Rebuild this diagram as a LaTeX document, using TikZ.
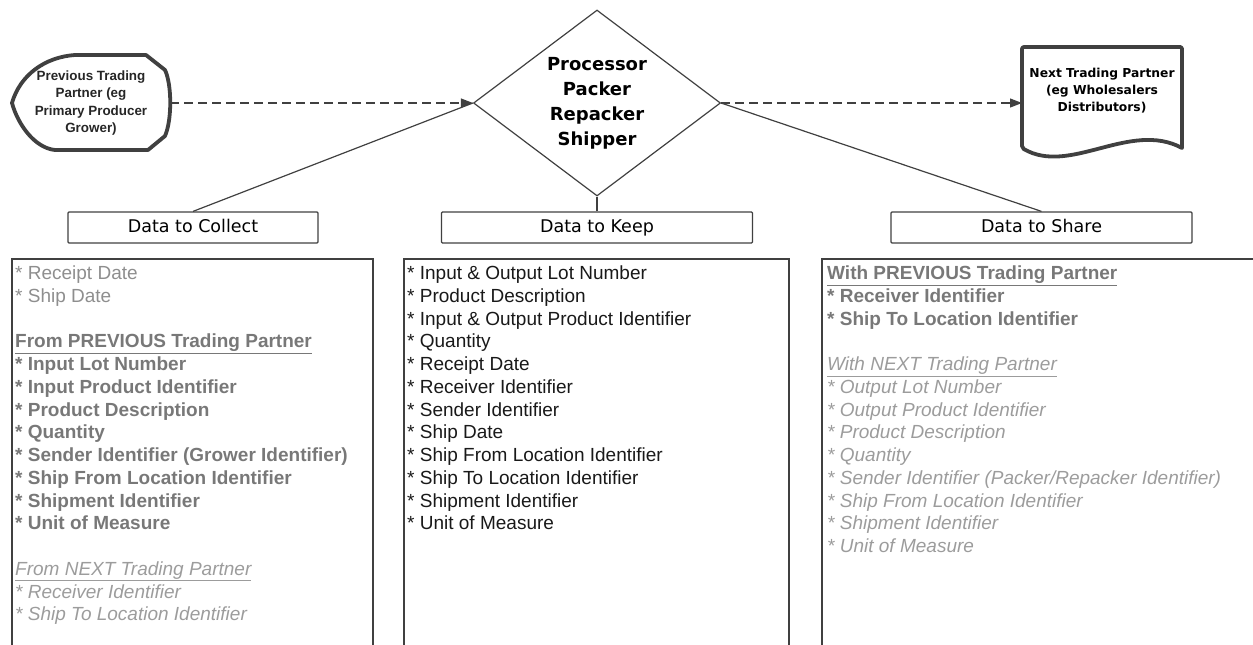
\documentclass[tikz,border=0pt]{standalone}
\usepackage{fontspec}
\setmainfont{Liberation Sans}
\newfontfamily\headfont{DejaVu Sans}
\usetikzlibrary{shapes.geometric,arrows.meta}
\definecolor{edgegray}{HTML}{404040}
\definecolor{lightgray}{HTML}{8E8E8E}
\definecolor{boldgray}{HTML}{787878}
\definecolor{italgray}{HTML}{9C9C9C}
\newcommand{\plainrow}[1]{\textcolor{lightgray}{#1}}
\newcommand{\boldrow}[1]{\textcolor{boldgray}{\bfseries #1}}
\newcommand{\italrow}[1]{\textcolor{italgray}{\itshape #1}}
\begin{document}
\begin{tikzpicture}[x=1pt, y=-1pt,
    thick line/.style={line width=3.8pt, draw=edgegray, line join=round},
    thin line/.style={line width=1.2pt, draw=edgegray},
    headbox/.style={draw=edgegray, line width=1.2pt, rounded corners=1pt, minimum height=31pt, inner sep=0pt, text height=13pt, text depth=4pt, font=\headfont\fontsize{17.5}{20}\selectfont},
    row/.style={anchor=base west, inner sep=0pt, font=\fontsize{19}{22}\selectfont},
    flow/.style={dash pattern=on 9pt off 5pt, line width=1.2pt, draw=edgegray, -{Triangle[length=12pt,width=9pt]}}]
    \useasboundingbox (0,0) rectangle (1253,645);
    \draw[thick line] (12,103) .. controls (20,75) and (45,57) .. (75,55) -- (146,55) -- (165,70) .. controls (172,85) and (172,120) .. (165,136) -- (148,150) -- (55,150) .. controls (35,148) and (18,125) .. (12,103) -- cycle;
    \node[align=center, font=\bfseries\fontsize{13.4}{17.3}\selectfont, text=black!85] (prev) at (91,103) {Previous Trading\\Partner (eg\\Primary Producer\\Grower)};
    \coordinate (prevR) at (170,103);
    \draw[thick line] (1182,148) [rounded corners=2pt] -- (1182,47) -- (1022,47) -- (1022,148) [sharp corners] .. controls (1070,176) and (1130,120) .. (1182,148) -- cycle;
    \node[align=center, font=\headfont\bfseries\fontsize{12.3}{17}\selectfont] (next) at (1102,91) {Next Trading Partner\\(eg Wholesalers\\Distributors)};
    \coordinate (nextL) at (1022,103);
    \node[diamond, aspect=1.33, draw=edgegray, line width=1.2pt, minimum width=247pt, minimum height=186pt, inner sep=0pt, align=center, font=\headfont\bfseries\fontsize{18}{25}\selectfont] (proc) at (597,103) {Processor\\Packer\\Repacker\\Shipper};
    \node[headbox, minimum width=250pt] (collect) at (193,227.5) {Data to Collect};
    \node[headbox, minimum width=311pt] (keep) at (597,227.5) {Data to Keep};
    \node[headbox, minimum width=301pt] (share) at (1041.5,227.5) {Data to Share};
    \draw[thin line] (collect.north) -- (proc.west);
    \draw[thin line] (keep.north) -- (proc.south);
    \draw[thin line] (share.north) -- (proc.east);
    \draw[flow] (prevR) -- (proc.west);
    \draw[flow] (proc.east) -- (nextL);
    \draw[thin line] (12,259) rectangle (373,660);
    \draw[thin line] (404,259) rectangle (789,660);
    \draw[thin line] (822,259) rectangle (1270,660);
    \foreach \txt [count=\i] in {{\plainrow{* Receipt Date}}, {\plainrow{* Ship Date}}, {},
        {\boldrow{\underline{From PREVIOUS Trading Partner}}}, {\boldrow{* Input Lot Number}},
        {\boldrow{* Input Product Identifier}}, {\boldrow{* Product Description}}, {\boldrow{* Quantity}},
        {\boldrow{* Sender Identifier (Grower Identifier)}}, {\boldrow{* Ship From Location Identifier}},
        {\boldrow{* Shipment Identifier}}, {\boldrow{* Unit of Measure}}, {},
        {\italrow{\underline{From NEXT Trading Partner}}}, {\italrow{* Receiver Identifier}},
        {\italrow{* Ship To Location Identifier}}}
        \node[row] (collect\i) at (15,{279.5+22.75*(\i-1)}) {\txt};
    \foreach \txt [count=\i] in {{* Input \& Output Lot Number}, {* Product Description},
        {* Input \& Output Product Identifier}, {* Quantity}, {* Receipt Date}, {* Receiver Identifier},
        {* Sender Identifier}, {* Ship Date}, {* Ship From Location Identifier},
        {* Ship To Location Identifier}, {* Shipment Identifier}, {* Unit of Measure}}
        \node[row, text=black!90] (keep\i) at (407,{279.5+22.75*(\i-1)}) {\txt};
    \foreach \txt [count=\i] in {{\boldrow{\underline{With PREVIOUS Trading Partner}}}, {\boldrow{* Receiver Identifier}},
        {\boldrow{* Ship To Location Identifier}}, {},
        {\italrow{\underline{With NEXT Trading Partner}}}, {\italrow{* Output Lot Number}},
        {\italrow{* Output Product Identifier}}, {\italrow{* Product Description}}, {\italrow{* Quantity}},
        {\italrow{* Sender Identifier (Packer/Repacker Identifier)}}, {\italrow{* Ship From Location Identifier}},
        {\italrow{* Shipment Identifier}}, {\italrow{* Unit of Measure}}}
        \node[row] (share\i) at (827,{279.5+22.75*(\i-1)}) {\txt};
\end{tikzpicture}
\end{document}
